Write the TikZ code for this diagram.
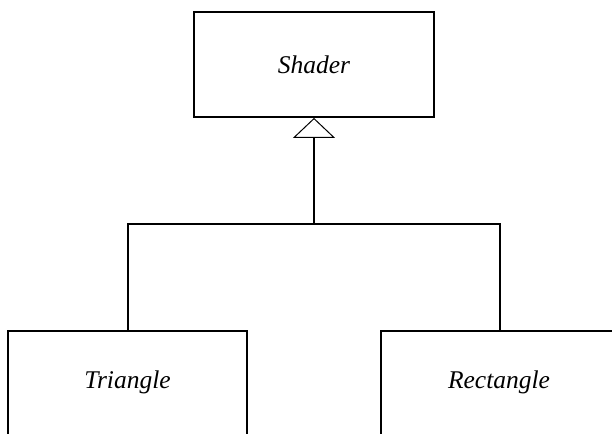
\documentclass[tikz,border=0pt]{standalone}
\usepackage{fontspec}
\setmainfont{Liberation Serif}
\usetikzlibrary{arrows.meta}
\begin{document}
\begin{tikzpicture}[x=1pt,y=1pt,
  classbox/.style={draw, line width=1.8pt, rectangle, minimum width=239pt, inner sep=0pt},
  classname/.style={font=\fontsize{25.5}{30}\selectfont\itshape},
  link/.style={draw, line width=1.8pt},
  inherit/.style={link, -{Triangle[open, length=20pt, width=42pt, line width=1pt]}}]
  \useasboundingbox (0,0) rectangle (612,-433);
  \clip (0,0) rectangle (612,-433);
  % base class
  \node[classbox, minimum width=240pt, minimum height=105pt, classname] (shader) at (314,-64.5) {Shader};
  % subclasses (lower edges run off the page)
  \node[classbox, minimum height=140pt] (tri) at (127.5,-401) {};
  \node[classbox, minimum width=240pt, minimum height=140pt] (rect) at (501,-401) {};
  \node[classname] (trilabel) at (127.5,-382) {Triangle};
  \node[classname] (rectlabel) at (499,-382) {Rectangle};
  % generalisation connectors
  \coordinate (j) at (314,-224);
  \coordinate (tritop) at ([xshift=0.5pt]tri.north);
  \coordinate (recttop) at ([xshift=-1pt]rect.north);
  \draw[link] (tritop) -- (tritop |- j) -- (recttop |- j) -- (recttop);
  \draw[inherit] (j) -- (shader.south);
\end{tikzpicture}
\end{document}
